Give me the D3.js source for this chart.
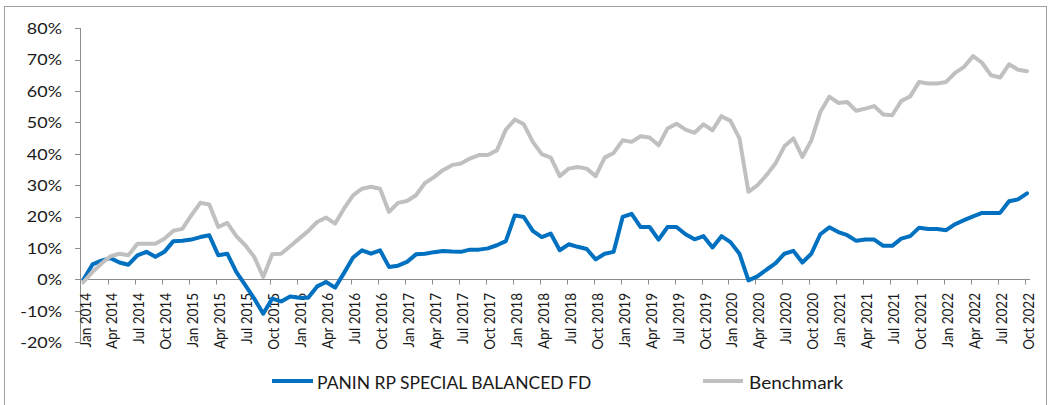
<!DOCTYPE html>
<html>
<head>
<meta charset="utf-8">
<script src="https://cdn.jsdelivr.net/npm/d3@7"></script>
<style>
  html, body { margin: 0; padding: 0; background: #fff; }
  svg { display: block; }
  text { font-family: Lato, "Open Sans", sans-serif; fill: #1a1a1a; }
</style>
</head>
<body>
<svg id="chart" width="1048" height="405"></svg>
<script>
// ---- data ----
const startYear = 2014;
const monthNames = ["Jan","Feb","Mar","Apr","May","Jun","Jul","Aug","Sep","Oct","Nov","Dec"];
const categories = [];
for (let k = 0; k < 106; k++) {
  categories.push(monthNames[k % 12] + " " + (startYear + Math.floor(k / 12)));
}
const seriesNames = ["PANIN RP SPECIAL BALANCED FD", "Benchmark"];
const fundValues = [
  0.0, 4.8, 6.0, 6.8, 5.4, 4.7, 7.7, 8.8, 7.2, 8.8, 12.2, 12.3,
  12.7, 13.5, 14.1, 7.7, 8.2, 2.4, -1.8, -6.1, -10.9, -6.1, -7.0, -5.4,
  -5.8, -5.8, -2.2, -0.8, -2.6, 2.1, 7.0, 9.3, 8.2, 9.3, 4.0, 4.4,
  5.6, 8.0, 8.2, 8.7, 9.1, 8.9, 8.8, 9.5, 9.5, 9.9, 10.9, 12.2,
  20.4, 19.9, 15.5, 13.5, 14.6, 9.3, 11.2, 10.4, 9.7, 6.4, 8.2, 8.8,
  19.9, 20.9, 16.7, 16.7, 12.7, 16.7, 16.7, 14.4, 12.8, 13.8, 10.2, 13.8,
  11.9, 8.2, -0.3, 1.0, 3.1, 5.1, 8.2, 9.1, 5.4, 8.2, 14.4, 16.6,
  15.1, 14.1, 12.3, 12.7, 12.7, 10.7, 10.7, 13.0, 13.8, 16.5, 16.1, 16.1,
  15.7, 17.6, 18.9, 20.1, 21.2, 21.2, 21.2, 24.9, 25.5, 27.4
];
const benchmarkValues = [
  -0.8, 2.4, 5.1, 7.4, 8.2, 7.7, 11.4, 11.4, 11.4, 13.0, 15.5, 16.1,
  20.4, 24.4, 23.9, 16.7, 18.0, 13.8, 10.9, 7.2, 0.8, 8.0, 8.2, 10.6,
  13.0, 15.4, 18.3, 19.7, 17.8, 22.6, 26.8, 28.9, 29.5, 28.9, 21.5, 24.4,
  25.0, 26.8, 30.7, 32.6, 34.8, 36.4, 36.9, 38.5, 39.6, 39.6, 41.1, 47.7,
  50.9, 49.4, 43.8, 39.9, 38.8, 32.9, 35.3, 35.8, 35.3, 32.9, 38.8, 40.3,
  44.3, 43.8, 45.6, 45.2, 42.7, 48.1, 49.6, 47.7, 46.7, 49.4, 47.5, 52.0,
  50.5, 44.9, 27.9, 30.0, 33.2, 36.9, 42.4, 44.9, 39.0, 44.3, 53.3, 58.2,
  56.2, 56.5, 53.7, 54.4, 55.2, 52.5, 52.3, 56.8, 58.3, 62.9, 62.4, 62.4,
  62.9, 65.8, 67.7, 71.1, 69.0, 65.0, 64.3, 68.5, 66.8, 66.3
];
const yTicks = [-20, -10, 0, 10, 20, 30, 40, 50, 60, 70, 80];
const seriesColors = ["#0070C0", "#C0C0C0"];

// ---- layout ----
const svg = d3.select("#chart");
const axisColor = "#8c8c8c";
const sx = 1.12; // horizontal text stretch

const x = d3.scalePoint().domain(d3.range(categories.length)).range([83.5, 1027]);
const y = d3.scaleLinear().domain([-20, 80]).range([342.3, 28.2]);

// outer border
svg.append("rect").attr("x", 4.5).attr("y", 6.5).attr("width", 1042).attr("height", 420)
  .attr("fill", "none").attr("stroke", "#a0a0a0").attr("stroke-width", 1);

// y axis
const yAxis = svg.append("g");
yAxis.append("line").attr("x1", 80.5).attr("x2", 80.5).attr("y1", y(80)).attr("y2", y(-20))
  .attr("stroke", axisColor).attr("stroke-width", 1);
yTicks.forEach(t => {
  const yy = Math.round(y(t)) + 0.5;
  yAxis.append("line").attr("x1", 75).attr("x2", 80.5).attr("y1", yy).attr("y2", yy)
    .attr("stroke", axisColor).attr("stroke-width", 1);
  yAxis.append("text")
    .attr("transform", `translate(62,${y(t) + 5.8}) scale(${sx},1)`)
    .attr("text-anchor", "end")
    .attr("font-size", 16)
    .text(t + "%");
});

// x axis (at 0%)
const y0 = Math.round(y(0)) + 0.5;
const xAxis = svg.append("g");
xAxis.append("line").attr("x1", 80.5).attr("x2", 1030).attr("y1", y0).attr("y2", y0)
  .attr("stroke", axisColor).attr("stroke-width", 1);
categories.forEach((c, i) => {
  if (i % 3 !== 0) return;
  const xx = Math.round(x(i) - 2) + 0.5;
  xAxis.append("line").attr("x1", xx).attr("x2", xx).attr("y1", y0).attr("y2", y0 + 5)
    .attr("stroke", axisColor).attr("stroke-width", 1);
  xAxis.append("text")
    .attr("transform", `translate(${x(i) + 7},293) rotate(-90) scale(1,1.1)`)
    .attr("text-anchor", "end")
    .attr("font-size", 13.5)
    .text(c);
});

// lines
const line = d3.line().x((d, i) => x(i)).y(d => y(d));
[fundValues, benchmarkValues].forEach((vals, s) => {
  svg.append("path").datum(vals)
    .attr("d", line)
    .attr("fill", "none")
    .attr("stroke", seriesColors[s])
    .attr("stroke-width", 4)
    .attr("stroke-linejoin", "round")
    .attr("stroke-linecap", "round");
});

// legend
const legendItems = [
  { x1: 272, x2: 313, tx: 317, sx: 1.03 },
  { x1: 703, x2: 743, tx: 749, sx: 1.12 }
];
legendItems.forEach((it, s) => {
  svg.append("line").attr("x1", it.x1).attr("x2", it.x2).attr("y1", 381).attr("y2", 381)
    .attr("stroke", seriesColors[s]).attr("stroke-width", 4);
  svg.append("text")
    .attr("transform", `translate(${it.tx},389) scale(${it.sx},1)`)
    .attr("font-size", 17)
    .text(seriesNames[s]);
});
</script>
</body>
</html>
